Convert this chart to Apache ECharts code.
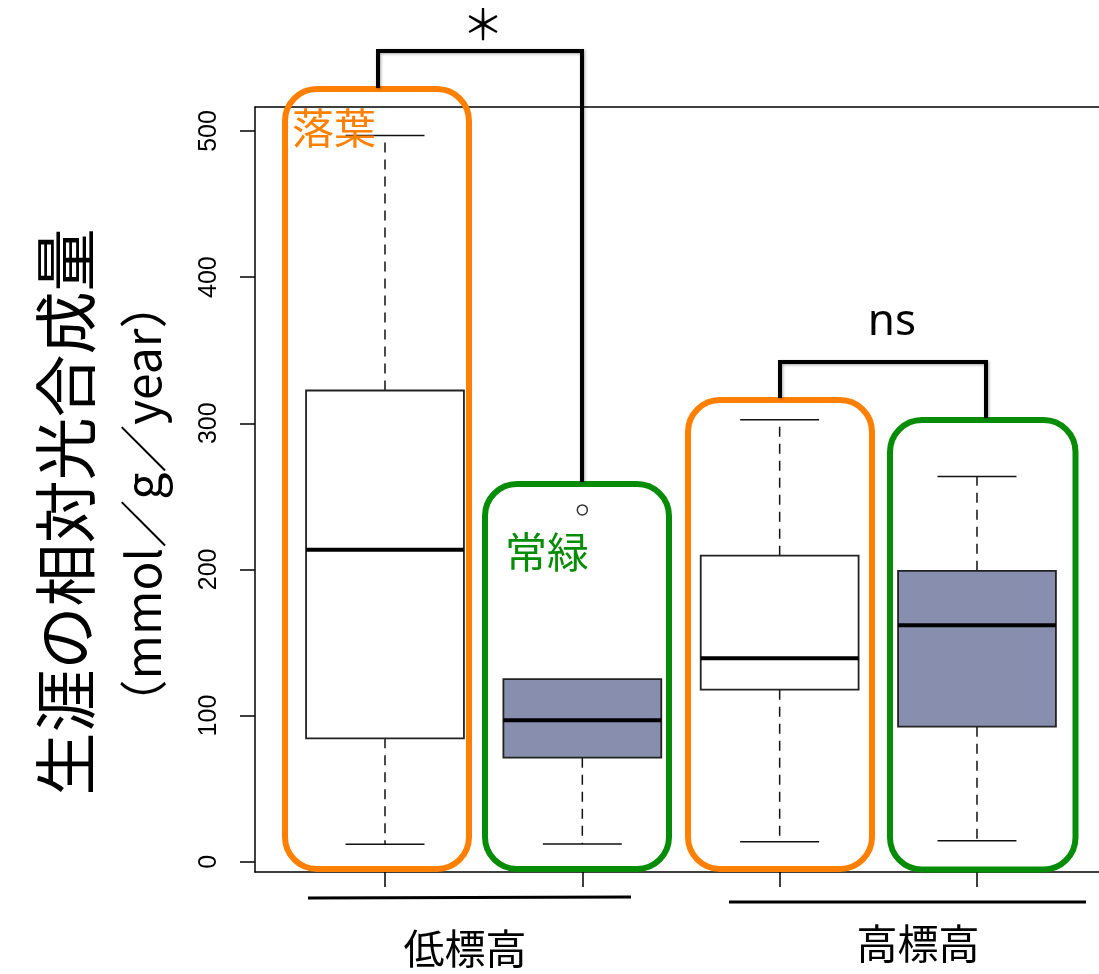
<!DOCTYPE html>
<html>
<head>
<meta charset="utf-8">
<script src="https://cdn.jsdelivr.net/npm/echarts@6/dist/echarts.min.js"></script>
<style>
  html, body { margin: 0; padding: 0; background: #fff; }
  #chart { width: 1099px; height: 974px; }
</style>
</head>
<body>
<div id="chart"></div>
<script>
// Box positions along the x axis (1..4) and the group / leaf-habit labels
const boxPositions = [1, 2, 3, 4];
const groupLabels = ['低標高', '高標高'];
const leafLabels = ['落葉', '常緑'];
// Five-number summaries per box: [lower whisker, Q1, median, Q3, upper whisker]
const lowDeciduous = [11.9, 84.4, 213.5, 322.4, 496.9];
const lowEvergreen = [12.1, 71.2, 96.8, 124.9, 124.9];
const highDeciduous = [13.7, 117.7, 139.2, 209.4, 302.4];
const highEvergreen = [14.4, 92.4, 161.8, 199.0, 263.5];
// Points beyond the whiskers: [box position, value]
const outlierPoints = [[2, 240.7]];
// Y axis tick values
const yTicks = [0, 100, 200, 300, 400, 500];
// Significance marks for the two comparisons
const sigLabels = ['＊', 'ns'];

const summaries = [lowDeciduous, lowEvergreen, highDeciduous, highEvergreen];
const boxFill = ['#ffffff', '#888fae', '#ffffff', '#888fae'];
const ORANGE = '#ff7f00';
const GREEN = '#078c07';
const CJK = '"Noto Sans CJK JP", "Noto Sans", sans-serif';
const X_MIN = 0.3412, X_MAX = 4.6183;

const chart = echarts.init(document.getElementById('chart'));

function renderBox(params, api) {
  const x = api.value(0);
  const lo = api.value(1), q1 = api.value(2), med = api.value(3), q3 = api.value(4), hi = api.value(5);
  const half = api.size([0.4, 0])[0];
  const capHalf = api.size([0.2, 0])[0];
  const cx = api.coord([x, med])[0];
  const y = v => api.coord([x, v])[1];
  const children = [];
  const dash = { stroke: '#111', lineWidth: 1.5, lineDash: [10, 7] };
  const solid = { stroke: '#111', lineWidth: 1.5 };
  if (hi > q3) {
    children.push({ type: 'line', shape: { x1: cx, y1: y(q3), x2: cx, y2: y(hi) }, style: dash });
    children.push({ type: 'line', shape: { x1: cx - capHalf, y1: y(hi), x2: cx + capHalf, y2: y(hi) }, style: solid });
  }
  if (lo < q1) {
    children.push({ type: 'line', shape: { x1: cx, y1: y(q1), x2: cx, y2: y(lo) }, style: dash });
    children.push({ type: 'line', shape: { x1: cx - capHalf, y1: y(lo), x2: cx + capHalf, y2: y(lo) }, style: solid });
  }
  children.push({
    type: 'rect',
    shape: { x: cx - half, y: y(q3), width: half * 2, height: y(q1) - y(q3) },
    style: { fill: boxFill[params.dataIndex], stroke: '#222', lineWidth: 1.8 }
  });
  children.push({
    type: 'line',
    shape: { x1: cx - half, y1: y(med), x2: cx + half, y2: y(med) },
    style: { stroke: '#000', lineWidth: 4 }
  });
  return { type: 'group', children: children };
}

const bracketStyle = {
  fill: 'none', stroke: '#000', lineWidth: 4,
  shadowColor: 'rgba(0,0,0,0.35)', shadowBlur: 3, shadowOffsetX: 1, shadowOffsetY: 1
};

function frame(x, y, w, h, color) {
  return { type: 'rect', shape: { x: x, y: y, width: w, height: h, r: 32 },
           style: { fill: 'none', stroke: color, lineWidth: 6 }, z: 10 };
}
function label(text, x, y, size, color, rot) {
  return { type: 'text', x: x, y: y, rotation: rot || 0, z: 11,
           style: { text: text, fill: color, font: size + 'px ' + CJK, align: 'center', verticalAlign: 'middle' } };
}

const frameLine = { show: true, onZero: false, lineStyle: { color: '#000', width: 1.5 } };

const option = {
  backgroundColor: '#fff',
  animation: false,
  grid: { left: 255, right: 0, top: 107, bottom: 102 },
  xAxis: [
    {
      type: 'value', min: X_MIN, max: X_MAX,
      axisLine: frameLine,
      splitLine: { show: false },
      axisTick: { show: true, length: 15, customValues: boxPositions, lineStyle: { color: '#000', width: 1.5 } },
      axisLabel: { show: false }
    },
    {
      type: 'value', min: X_MIN, max: X_MAX, position: 'top',
      axisLine: frameLine,
      splitLine: { show: false },
      axisTick: { show: false },
      axisLabel: { show: false }
    }
  ],
  yAxis: {
    type: 'value', min: -7.05, max: 516.4,
    axisLine: frameLine,
    splitLine: { show: false },
    axisTick: { show: true, length: 15, customValues: yTicks, lineStyle: { color: '#000', width: 1.5 } },
    axisLabel: {
      show: true, customValues: yTicks, rotate: 90, margin: 33,
      color: '#000', fontSize: 25, fontFamily: '"Liberation Sans", Arial, sans-serif'
    }
  },
  series: [
    {
      type: 'custom',
      renderItem: renderBox,
      data: summaries.map((s, i) => [boxPositions[i]].concat(s)),
      encode: { x: 0, y: [1, 2, 3, 4, 5] },
      z: 2
    },
    {
      type: 'scatter',
      data: outlierPoints,
      symbol: 'circle', symbolSize: 10,
      itemStyle: { color: '#fff', borderColor: '#000', borderWidth: 1.5 },
      z: 3
    }
  ],
  graphic: [
    frame(285, 89, 184, 780, ORANGE),
    frame(485, 484, 184, 385, GREEN),
    frame(688, 400, 184, 469, ORANGE),
    frame(890, 420, 185.5, 449.5, GREEN),
    label(leafLabels[0], 334, 128, 42, ORANGE),
    label(leafLabels[1], 547, 552, 42, GREEN),
    { type: 'polyline', shape: { points: [[378, 88], [378, 51], [582, 51], [582, 482]] }, style: bracketStyle, z: 12 },
    { type: 'polyline', shape: { points: [[780, 398], [780, 362], [986, 362], [986, 418]] }, style: bracketStyle, z: 12 },
    label(sigLabels[0], 483, 24, 42, '#000'),
    { type: 'text', x: 892, y: 322, z: 11,
      style: { text: sigLabels[1], fill: '#000', font: '44px "Noto Sans", sans-serif', align: 'center', verticalAlign: 'middle' } },
    { type: 'line', shape: { x1: 308, y1: 898, x2: 631, y2: 897 }, style: { stroke: '#000', lineWidth: 3 } },
    { type: 'line', shape: { x1: 729, y1: 902, x2: 1086, y2: 902 }, style: { stroke: '#000', lineWidth: 3 } },
    label(groupLabels[0], 465, 948, 41, '#000'),
    label(groupLabels[1], 918, 943, 41, '#000'),
    label('生涯の相対光合成量', 65, 512, 63, '#000', Math.PI / 2),
    label('（mmol／g／year）', 143, 504, 48, '#000', Math.PI / 2)
  ]
};
chart.setOption(option);
</script>
</body>
</html>
